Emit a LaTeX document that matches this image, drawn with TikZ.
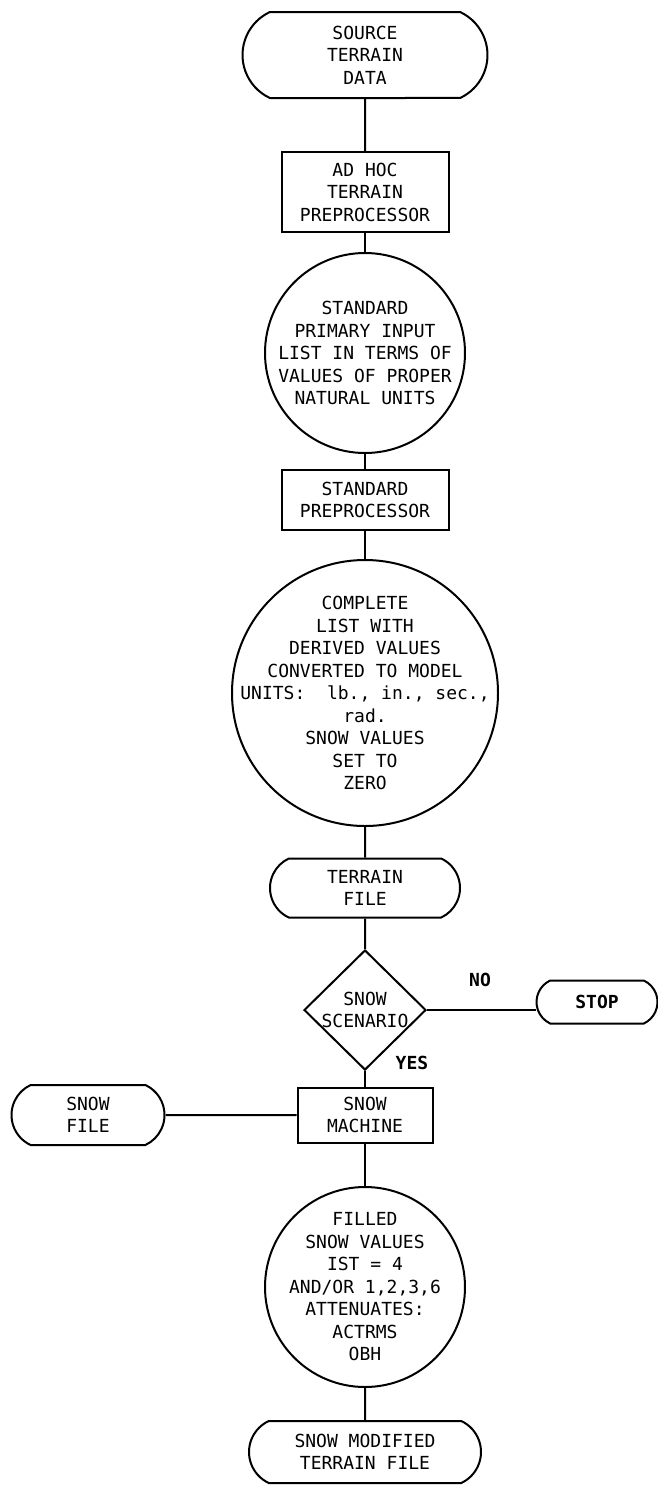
\documentclass[tikz,border=0pt]{standalone}
\usepackage{fontspec}
\newfontfamily\chartfont{DejaVu Sans Mono}
\usetikzlibrary{shapes.misc,shapes.geometric}

\begin{document}
\begin{tikzpicture}[x=1pt, y=-1pt, line width=2pt,
  font=\chartfont\fontsize{18}{22.5}\selectfont,
  term/.style={draw, rounded rectangle, rounded rectangle arc length=130,
    align=center, inner sep=0pt},
  proc/.style={draw, rectangle, align=center, inner sep=0pt},
  store/.style={draw, circle, align=center, inner sep=-30pt},
  decide/.style={draw, diamond, align=center, inner sep=-5pt},
  tag/.style={font=\chartfont\bfseries\fontsize{18}{20}\selectfont}]
  \useasboundingbox (0,0) rectangle (658,1486);
  % Main column: source data down to the terrain file.
  \node[term, minimum width=245pt, minimum height=86pt] (src) at (365,55)
    {SOURCE\\TERRAIN\\DATA};
  \node[proc, minimum width=167pt, minimum height=80pt] (adhoc) at (365,192)
    {AD HOC\\TERRAIN\\PREPROCESSOR};
  \node[store, minimum size=200pt] (list1) at (365,353)
    {STANDARD\\PRIMARY INPUT\\LIST IN TERMS OF\\VALUES OF PROPER\\NATURAL UNITS};
  \node[proc, minimum width=167pt, minimum height=60pt] (stdpre) at (365,500)
    {STANDARD\\PREPROCESSOR};
  \node[store, minimum size=266pt] (list2) at (365,693)
    {COMPLETE\\LIST WITH\\DERIVED VALUES\\CONVERTED TO MODEL\\UNITS:\ \ lb., in., sec.,\\rad.\\SNOW VALUES\\SET TO\\ZERO};
  \node[term, minimum width=190pt, minimum height=59pt] (tfile) at (365,888)
    {TERRAIN\\FILE};
  % Snow branch.
  \node[decide, minimum width=122pt, minimum height=120pt] (dec) at (365,1010)
    {SNOW\\SCENARIO};
  \node[term, tag, minimum width=121pt, minimum height=43pt] (stop) at (597,1002)
    {STOP};
  \node[proc, minimum width=135pt, minimum height=55pt] (machine) at (365,1115)
    {SNOW\\MACHINE};
  \node[term, minimum width=153pt, minimum height=60pt] (sfile) at (88,1115)
    {SNOW\\FILE};
  \node[store, minimum size=200pt] (list3) at (365,1287)
    {FILLED\\SNOW VALUES\\IST = 4\\AND/OR 1,2,3,6\\ATTENUATES:\\ACTRMS\\OBH};
  \node[term, minimum width=232pt, minimum height=62pt] (out) at (365,1452)
    {SNOW MODIFIED\\TERRAIN FILE};
  \node[tag] (no) at (480,980) {NO};
  \node[tag] (yes) at (412,1063) {YES};
  % Connectors.
  \foreach \a/\b in {src/adhoc, adhoc/list1, list1/stdpre, stdpre/list2,
      list2/tfile, tfile/dec, dec/machine, machine/list3, list3/out,
      sfile/machine} {
    \draw (\a) -- (\b);
  }
  \draw (dec.east) -- (dec.east -| stop.west);
\end{tikzpicture}
\end{document}
